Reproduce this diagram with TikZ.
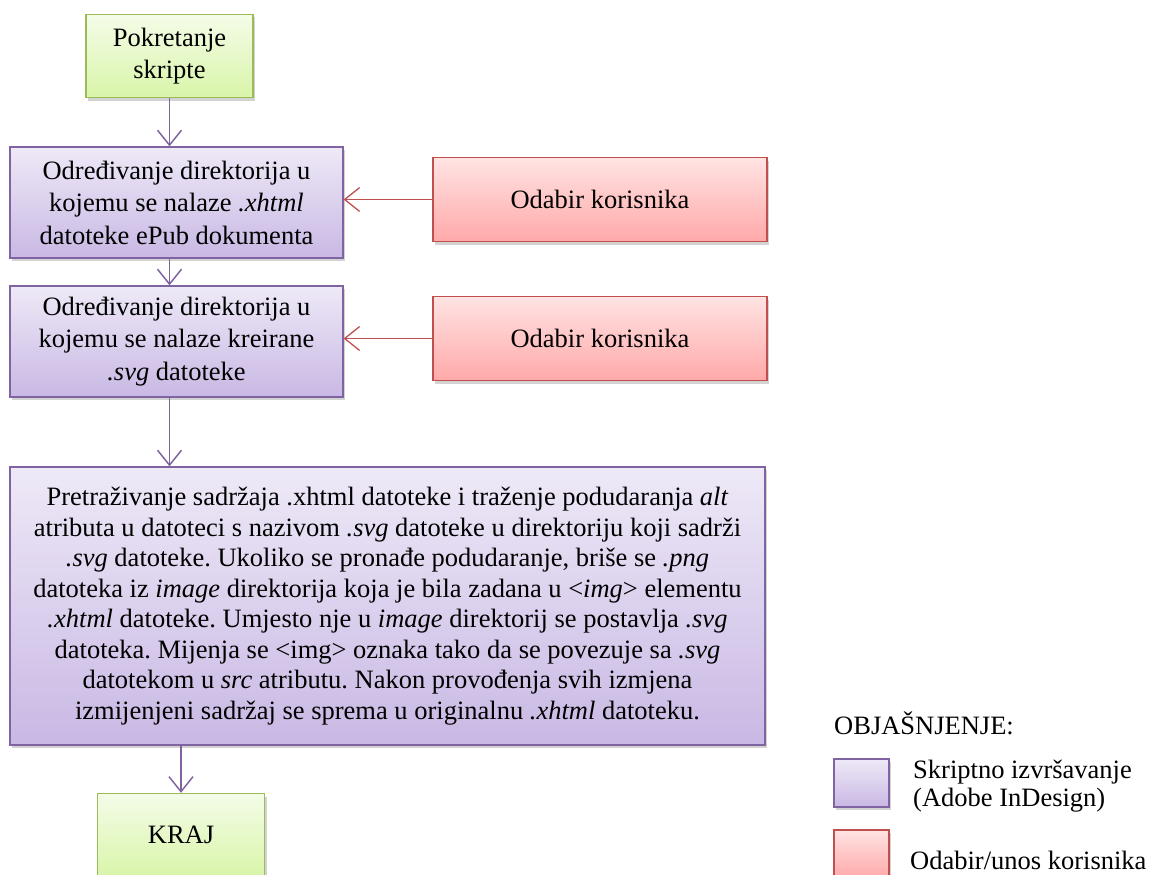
\documentclass[tikz,border=0pt]{standalone}
\usepackage{fontspec}
\setmainfont{Liberation Serif}
\frenchspacing
\usetikzlibrary{arrows.meta,shadows,positioning}
\definecolor{purpB}{HTML}{8064A2}
\definecolor{purpT}{HTML}{EEE9F7}
\definecolor{purpU}{HTML}{C9B8E4}
\definecolor{redB}{HTML}{C0504D}
\definecolor{redT}{HTML}{FFE3E3}
\definecolor{redU}{HTML}{FFA9A9}
\definecolor{grnB}{HTML}{9BBB59}
\definecolor{grnT}{HTML}{F4FCE8}
\definecolor{grnU}{HTML}{D9F5A9}
\tikzset{
  box/.style={draw, line width=1.3pt, inner sep=2pt, align=center, font=\fontsize{26.5}{32.5}\selectfont,
    drop shadow={shadow xshift=2pt, shadow yshift=-3pt, opacity=0.35}},
  pbox/.style={box, draw=purpB, top color=purpT, bottom color=purpU},
  rbox/.style={box, draw=redB, top color=redT, bottom color=redU},
  gbox/.style={box, draw=grnB, top color=grnT, bottom color=grnU},
  parr/.style={draw=purpB, line width=1.5pt, -{Straight Barb[length=15pt,width=24pt,line width=1.5pt]}},
  rarr/.style={draw=redB, line width=1.3pt, -{Straight Barb[length=15pt,width=24pt,line width=1.3pt]}},
  lgd/.style={anchor=west, inner sep=0pt, font=\fontsize{26.5}{28}\selectfont, align=left}
}
\begin{document}
\begin{tikzpicture}[x=1pt,y=-1pt]
\useasboundingbox (0,0) rectangle (1157,875);
\node[gbox, minimum width=167pt, minimum height=83pt] (start) at (169.5,56) {Pokretanje\\skripte};
\node[pbox, minimum width=333pt, minimum height=111pt] (b2) at (176.5,202.5) {Određivanje direktorija u\\kojemu se nalaze \textit{.xhtml}\\datoteke ePub dokumenta};
\node[rbox, minimum width=334pt, minimum height=84pt] (o1) at (600,199.5) {Odabir korisnika};
\node[pbox, minimum width=333pt, minimum height=111pt] (b3) at (176.5,341.5) {Određivanje direktorija u\\kojemu se nalaze kreirane\\\textit{.svg} datoteke};
\node[rbox, minimum width=334pt, minimum height=84pt] (o2) at (600,338.5) {Odabir korisnika};
\node[pbox, minimum width=755pt, minimum height=278pt, font=\fontsize{26.5}{30.5}\selectfont] (b4) at (387.5,606) {Pretraživanje sadržaja .xhtml datoteke i traženje podudaranja \textit{alt}\\atributa u datoteci s nazivom \textit{.svg} datoteke u direktoriju koji sadrži\\\textit{.svg} datoteke. Ukoliko se pronađe podudaranje, briše se \textit{.png}\\datoteka iz \textit{image} direktorija koja je bila zadana u <\textit{img}> elementu\\\textit{.xhtml} datoteke. Umjesto nje u \textit{image} direktorij se postavlja \textit{.svg}\\datoteka. Mijenja se <img> oznaka tako da se povezuje sa \textit{.svg}\\datotekom u \textit{src} atributu. Nakon provođenja svih izmjena\\izmijenjeni sadržaj se sprema u originalnu \textit{.xhtml} datoteku.};
\node[gbox, minimum width=167pt, minimum height=83pt] (kraj) at (181,835) {KRAJ};
\draw[parr] (start.south) -- (start.south |- b2.north);
\draw[parr] (start.south |- b2.south) -- (start.south |- b3.north);
\draw[parr] (start.south |- b3.south) -- (start.south |- b4.north);
\draw[parr] (kraj.north |- b4.south) -- (kraj.north);
\draw[rarr] (o1.west) -- (o1.west -| b2.east);
\draw[rarr] (o2.west) -- (o2.west -| b3.east);
\node[lgd] (lt) at (834,723) {OBJAŠNJENJE:};
\node[pbox, minimum width=55pt, minimum height=48pt, inner sep=0pt] (l1) at (861.5,783) {};
\node[rbox, minimum width=55pt, minimum height=48pt, inner sep=0pt] (l2) at (861.5,854) {};
\node[lgd] (l1t) at (913,786) {Skriptno izvršavanje\\(Adobe InDesign)};
\node[lgd] (l2t) at (910,860) {Odabir/unos korisnika};
\end{tikzpicture}
\end{document}
